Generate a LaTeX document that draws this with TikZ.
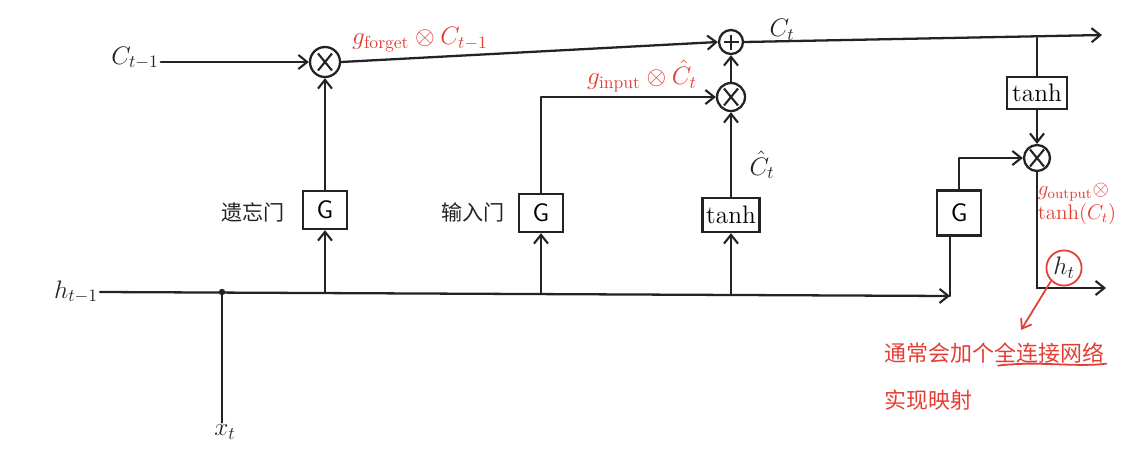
\documentclass[tikz,border=0pt]{standalone}
\usepackage{fontspec}
\newfontfamily\cjk{Noto Sans CJK SC}
\usetikzlibrary{arrows.meta,calc}
\definecolor{pen}{RGB}{35,35,35}
\definecolor{redpen}{RGB}{228,62,52}
\begin{document}
\begin{tikzpicture}[x=0.02cm,y=-0.02cm,
  wire/.style={draw=pen,line width=1.3pt,line cap=round,line join=round},
  arr/.style={wire,-{Straight Barb[length=5pt,width=8pt,line width=1.2pt]}},
  redarr/.style={draw=redpen,line width=1pt,-{Straight Barb[length=5pt,width=7pt]}},
  mul/.style={circle,draw=pen,line width=1.3pt,minimum size=#1,inner sep=0pt,
    path picture={\draw[pen,line width=1.2pt]
      ($(path picture bounding box.center)+(-0.14cm,-0.17cm)$) -- ++(0.28cm,0.34cm)
      ($(path picture bounding box.center)+(-0.14cm,0.17cm)$) -- ++(0.28cm,-0.34cm);}},
  addop/.style={circle,draw=pen,line width=1.3pt,minimum size=0.48cm,inner sep=0pt,
    path picture={\draw[pen,line width=1.2pt]
      ($(path picture bounding box.center)+(-0.15cm,0)$) -- ++(0.3cm,0)
      ($(path picture bounding box.center)+(0,-0.15cm)$) -- ++(0,0.3cm);}},
  gatebox/.style={draw=pen,line width=1.3pt,minimum width=0.88cm,minimum height=0.76cm,inner sep=0pt,font=\sffamily\Large},
  tanhbox/.style={draw=pen,line width=1.3pt,minimum width=#1,minimum height=0.68cm,inner sep=0pt,font=\Large},
  lab/.style={text=pen,font=\Large,inner sep=1pt},
  redlab/.style={text=redpen,font=\Large,inner sep=1pt},
  cjklab/.style={text=pen,font=\cjk\fontsize{12}{14}\selectfont,inner sep=1pt},
  rednote/.style={text=redpen,font=\cjk\fontsize{12.5}{15}\selectfont,inner sep=0pt,anchor=west}
]
\useasboundingbox (0,0) rectangle (1125,457);

% operators
\node[mul=0.6cm] (c1) at (325,62) {};
\node[addop] (plus) at (731,42) {};
\node[mul=0.56cm] (m2) at (731,97) {};
\node[mul=0.52cm] (m3) at (1037,158) {};

% gates
\node[gatebox] (gf) at (325,210) {G};
\node[gatebox] (gi) at (541,213) {G};
\node[tanhbox=1.14cm] (th) at (731,215) {tanh};
\node[gatebox,minimum height=0.9cm] (go) at (959,213) {G};
\node[tanhbox=1.2cm,minimum height=0.64cm] (tu) at (1037,93) {tanh};

% labels
\node[lab] (cprev) at (135,58) {$C_{t-1}$};
\node[lab] (hprev) at (76,292) {$h_{t-1}$};
\node[lab] (xt) at (225,432) {$x_t$};
\node[lab] (ct) at (782,30) {$C_t$};
\node[lab] (chat) at (762,165) {$\hat{C}_t$};
\node[cjklab] (fg) at (253,212) {遗忘门};
\node[cjklab] (ig) at (473,212) {输入门};
\node[redlab] (gfl) at (420,40) {$g_{\mathrm{forget}}\otimes C_{t-1}$};
\node[redlab] (gil) at (642,76) {$g_{\mathrm{input}}\otimes \hat{C}_t$};
\node[redlab,align=left,font=\large] (gol) at (1077,204) {$g_{\mathrm{output}}\otimes$\\[0pt]$\tanh(C_t)$};
\node[circle,draw=redpen,line width=1pt,text=pen,font=\Large,inner sep=1pt,minimum size=0.66cm] (hto) at (1064,268) {$h_t$};
\node[rednote] (note1) at (884,353) {通常会加个全连接网络};
\node[rednote] (note2) at (884,400) {实现映射};

% coordinates
\coordinate (cout) at (1102,35);
\coordinate (cbr) at (1037,38);
\coordinate (hf) at (325,292);
\coordinate (hi) at (541,293);
\coordinate (htt) at (731,294);
\coordinate (hcor) at (950,296);
\coordinate (j) at (222,292);
\coordinate (hcor2) at (1037,288);
\coordinate (hout) at (1106,288);
\coordinate (notetip) at (1021,330);

% connectors
\draw[arr] (cprev.east |- c1) -- (c1.west);
\draw[arr] (c1.east) -- (plus.west);
\draw[arr] (plus.east) -- (cout);
\draw[wire] (cbr) -- (tu.north);
\draw[arr] (tu.south) -- (m3.north);
\draw[wire] (m3.south) -- (hcor2);
\draw[arr] (hcor2) -- (hout);

\draw[arr] (hprev.east) -- (hcor);
\draw[wire] (hcor) -- (hcor |- go.south);
\draw[arr] (go.north) |- (m3.west);

\draw[arr] (hf) -- (gf.south);
\draw[arr] (gf.north) -- (c1.south);
\draw[arr] (hi) -- (gi.south);
\draw[arr] (gi.north) |- (m2.west);
\draw[arr] (htt) -- (th.south);
\draw[arr] (th.north) -- (m2.south);
\draw[arr] (m2.north) -- (plus.south);

\fill[pen] (j) circle (3.2);
\draw[wire] (j) -- (j |- xt.north);

% red annotation
\draw[redarr] (hto.south west) -- (notetip);
\draw[redpen,line width=1pt,line cap=round] ($(note1.south west)+(114,2)$) .. controls ++(40,-5) and ++(-30,4) .. ($(note1.south east)+(2,0)$);
\end{tikzpicture}
\end{document}
